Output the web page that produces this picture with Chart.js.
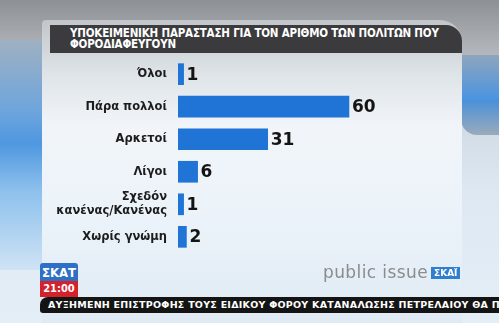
<!DOCTYPE html>
<html>
<head>
<meta charset="utf-8">
<script src="https://cdn.jsdelivr.net/npm/chart.js@4"></script>
<style>
  html, body { margin: 0; padding: 0; }
  body {
    width: 499px; height: 323px; overflow: hidden; position: relative;
    background: linear-gradient(180deg, #8d9095 0%, #a9adb2 12%, #cdd6df 30%, #dde8f2 60%, #e4eef7 100%);
    font-family: "DejaVu Sans", sans-serif;
  }
  .side-left {
    position: absolute; left: 0; top: 40px; width: 44px; height: 230px;
    background: linear-gradient(180deg, #9fb0c2 0%, #6fa6dc 30%, #4f97e0 45%, #8cc0ec 65%, #cfe3f4 100%);
  }
  .side-right {
    position: absolute; right: 0; top: 55px; width: 38px; height: 45px;
    background: linear-gradient(180deg, #8ea5be, #4a94e0);
  }
  .side-right2 {
    position: absolute; right: 0; top: 100px; width: 38px; height: 35px;
    background: linear-gradient(180deg, #4a90d8, #9aabbb);
    border-bottom-left-radius: 16px;
  }
  .panel {
    position: absolute; left: 42px; top: 20px; width: 420px; height: 303px;
    background: linear-gradient(180deg, #c2c6cb 0%, #dfe4e9 18%, #f1f5f9 35%, #eaf2f9 70%, #dfeaf4 100%);
    border-top-right-radius: 22px; border-top-left-radius: 4px;
  }
  .title {
    position: absolute; left: 50px; top: 25px; width: 412px; height: 28px;
    background: #3b3b3d; border-top-right-radius: 16px;
    color: #fff; font-family: "DejaVu Sans Condensed", "DejaVu Sans", sans-serif;
    font-weight: bold; font-size: 11.5px; line-height: 11px;
    box-sizing: border-box; padding: 3px 0 0 20px; letter-spacing: -0.2px;
  }
  #wrap { position: absolute; left: 0; top: 48px; width: 420px; height: 215px; }
  .logo {
    position: absolute; left: 40px; top: 263px; width: 38px; height: 34px;
    font-family: "DejaVu Sans Condensed", sans-serif; font-weight: bold; color: #fff; text-align: center;
  }
  .logo .a { background: #2f6fc4; height: 18px; line-height: 19px; font-size: 13px; border-top-left-radius: 3px; border-top-right-radius: 3px; }
  .logo .b { background: #d4222c; height: 16px; line-height: 16px; font-size: 11px; }
  .pi {
    position: absolute; left: 323px; top: 262px; color: #8a8c8e;
    font-family: "DejaVu Sans", sans-serif; font-size: 17px; letter-spacing: 0.4px;
  }
  .pi span {
    display: inline-block; background: #2f7fd0; color: #fff; font-size: 9px; font-weight: bold;
    padding: 1px 3px; vertical-align: 2px; margin-left: 3px; letter-spacing: 0;
  }
  .ticker {
    position: absolute; left: 40px; top: 297px; width: 470px; height: 16px;
    background: #141414; border-top-left-radius: 8px; border-bottom-left-radius: 3px;
    color: #fff; font-family: "DejaVu Sans", sans-serif; font-weight: bold; font-size: 9.5px;
    line-height: 16px; white-space: nowrap; overflow: hidden; padding-left: 8px; box-sizing: border-box;
    letter-spacing: 0.25px;
  }
</style>
</head>
<body>
<div class="side-left"></div>
<div class="side-right"></div>
<div class="side-right2"></div>
<div class="panel"></div>
<div class="title">ΥΠΟΚΕΙΜΕΝΙΚΗ ΠΑΡΑΣΤΑΣΗ ΓΙΑ ΤΟΝ ΑΡΙΘΜΟ ΤΩΝ ΠΟΛΙΤΩΝ ΠΟΥ<br>ΦΟΡΟΔΙΑΦΕΥΓΟΥΝ</div>
<div id="wrap"><canvas id="chart"></canvas></div>
<div class="logo"><div class="a">ΣΚΑΤ</div><div class="b">21:00</div></div>
<div class="pi">public issue<span>ΣΚΑΪ</span></div>
<div class="ticker">ΑΥΞΗΜΕΝΗ ΕΠΙΣΤΡΟΦΗΣ ΤΟΥΣ ΕΙΔΙΚΟΥ ΦΟΡΟΥ ΚΑΤΑΝΑΛΩΣΗΣ ΠΕΤΡΕΛΑΙΟΥ ΘΑ ΠΑΡΕΧΕΤΑΙ</div>

<script>
const categories = ['Όλοι', 'Πάρα πολλοί', 'Αρκετοί', 'Λίγοι', ['Σχεδόν', 'κανένας/Κανένας'], 'Χωρίς γνώμη'];
const values = [1, 60, 31, 6, 1, 2];

const BAR_COLOR = '#1f74d6';

// value labels next to each bar
const valueLabels = {
    id: 'valueLabels',
    afterDatasetsDraw(chart) {
        const ctx = chart.ctx;
        const meta = chart.getDatasetMeta(0);
        ctx.save();
        ctx.fillStyle = '#141414';
        ctx.font = 'bold 17px "DejaVu Sans", sans-serif';
        ctx.textAlign = 'left';
        ctx.textBaseline = 'middle';
        meta.data.forEach((bar, i) => {
            ctx.fillText(values[i], bar.x + 3, bar.y + 1);
        });
        ctx.restore();
    }
};

new Chart(document.getElementById('chart'), {
    type: 'bar',
    data: {
        labels: categories,
        datasets: [{
            data: values,
            base: -1,
            backgroundColor: BAR_COLOR,
            barThickness: 21,
            borderWidth: 0
        }]
    },
    options: {
        indexAxis: 'y',
        responsive: true,
        maintainAspectRatio: false,
        animation: false,
        layout: { padding: { left: 0, right: 15, top: 0, bottom: 0 } },
        plugins: {
            legend: { display: false },
            tooltip: { enabled: false }
        },
        scales: {
            x: {
                display: false,
                min: -1,
                max: 80
            },
            y: {
                grid: { display: false },
                border: { display: false },
                afterFit(scale) { scale.width = 178; },
                ticks: {
                    color: '#1c1c1c',
                    padding: 3,
                    font: { family: '"DejaVu Sans", sans-serif', weight: 'bold', size: 11.5 }
                }
            }
        }
    },
    plugins: [valueLabels]
});
</script>
</body>
</html>
